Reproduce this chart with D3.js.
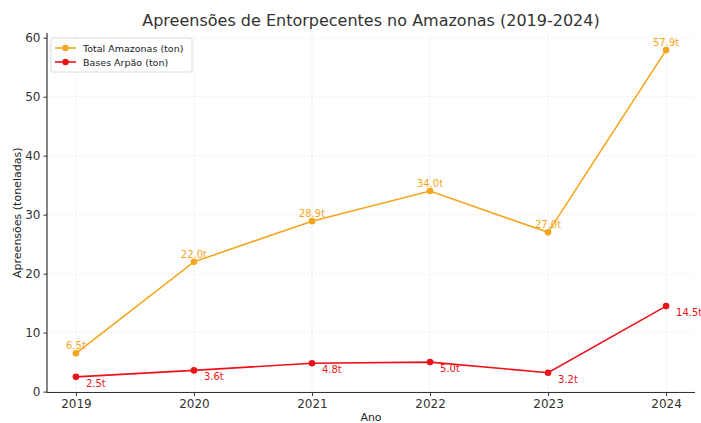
<!DOCTYPE html>
<html>
<head>
<meta charset="utf-8">
<script src="https://cdn.jsdelivr.net/npm/d3@7"></script>
<style>
  body { margin: 0; background: #fff; }
  text { font-family: "DejaVu Sans", sans-serif; }
</style>
</head>
<body>
<script>
var anos = [2019, 2020, 2021, 2022, 2023, 2024]
var totalAmazonas = [6.5, 22.0, 28.9, 34.0, 27.0, 57.9]
var basesArpao = [2.5, 3.6, 4.8, 5.0, 3.2, 14.5]
var yTicks = [0, 10, 20, 30, 40, 50, 60]

var width = 701
var height = 423
var margin = { top: 33, bottom: 30, left: 47, right: 6 }

var corLaranja = "#f5a51c"
var corVermelho = "#ec1218"

var svg = d3.select("body")
  .append("svg")
  .attr("width", width)
  .attr("height", height)

var escalaX = d3.scaleLinear()
  .domain([2018.755, 2024.245])
  .range([margin.left, width - margin.right])

var escalaY = d3.scaleLinear()
  .domain([-0.15, 60.8])
  .range([height - margin.bottom - 0.5, margin.top])

// grid
svg.append("g")
  .selectAll("line")
  .data(anos)
  .enter()
  .append("line")
  .attr("x1", d => escalaX(d)).attr("x2", d => escalaX(d))
  .attr("y1", escalaY.range()[0]).attr("y2", escalaY.range()[1])
  .attr("stroke", "#dedede")
  .attr("stroke-width", 0.7)
  .attr("stroke-dasharray", "2,2")

svg.append("g")
  .selectAll("line")
  .data(yTicks)
  .enter()
  .append("line")
  .attr("x1", escalaX.range()[0]).attr("x2", escalaX.range()[1])
  .attr("y1", d => escalaY(d)).attr("y2", d => escalaY(d))
  .attr("stroke", "#e8e8e8")
  .attr("stroke-width", 0.7)
  .attr("stroke-dasharray", "2,2")

// eixos
var ejeY = d3.axisLeft(escalaY).tickValues(yTicks).tickSize(3.5).tickPadding(3)
var gY = svg.append("g")
  .attr("transform", "translate(" + margin.left + ",0)")
  .call(ejeY)

var ejeX = d3.axisBottom(escalaX).tickValues(anos).tickFormat(d3.format("d")).tickSize(3.5).tickPadding(3)
var gX = svg.append("g")
  .attr("transform", "translate(0," + escalaY.range()[0] + ")")
  .call(ejeX)

gY.select(".domain").attr("stroke", "#333").attr("stroke-width", 1.2).attr("d", "M0," + escalaY.range()[0] + "V" + escalaY.range()[1])
gX.select(".domain").attr("stroke", "#333").attr("stroke-width", 1.2).attr("d", "M" + escalaX.range()[0] + ",0H" + escalaX.range()[1])
svg.selectAll(".tick line").attr("stroke", "#333")
svg.selectAll(".tick text").attr("fill", "#333").style("font-size", "12px").style("font-family", "DejaVu Sans")

// linhas
var series = [
  { nome: "Total Amazonas (ton)", valores: totalAmazonas, cor: corLaranja },
  { nome: "Bases Arpão (ton)", valores: basesArpao, cor: corVermelho }
]

var linha = d3.line()
  .x(d => escalaX(d[0]))
  .y(d => escalaY(d[1]))

series.forEach(function(s, i) {
  var pts = anos.map((a, j) => [a, s.valores[j]])
  svg.append("path")
    .datum(pts)
    .attr("fill", "none")
    .attr("stroke", s.cor)
    .attr("stroke-width", 1.6)
    .attr("d", linha)

  svg.append("g")
    .selectAll("circle")
    .data(pts)
    .enter()
    .append("circle")
    .attr("cx", d => escalaX(d[0]))
    .attr("cy", d => escalaY(d[1]))
    .attr("r", 3.3)
    .attr("fill", s.cor)

  svg.append("g")
    .selectAll("text")
    .data(pts)
    .enter()
    .append("text")
    .attr("x", d => i == 0 ? escalaX(d[0]) : escalaX(d[0]) + 10)
    .attr("y", d => i == 0 ? escalaY(d[1]) - 4 : escalaY(d[1]) + 10)
    .attr("text-anchor", i == 0 ? "middle" : "start")
    .attr("fill", s.cor)
    .style("font-size", "10px")
    .text(d => d[1].toFixed(1) + "t")
})

// titulos
svg.append("text")
  .attr("x", (escalaX.range()[0] + escalaX.range()[1]) / 2)
  .attr("y", 26)
  .attr("text-anchor", "middle")
  .attr("fill", "#333")
  .style("font-size", "16px")
  .text("Apreensões de Entorpecentes no Amazonas (2019-2024)")

svg.append("text")
  .attr("x", (escalaX.range()[0] + escalaX.range()[1]) / 2)
  .attr("y", 421)
  .attr("text-anchor", "middle")
  .attr("fill", "#222")
  .style("font-size", "11px")
  .text("Ano")

svg.append("text")
  .attr("transform", "translate(21," + ((escalaY.range()[0] + escalaY.range()[1]) / 2) + ") rotate(-90)")
  .attr("text-anchor", "middle")
  .attr("fill", "#222")
  .style("font-size", "11px")
  .text("Apreensões (toneladas)")

// legenda
var leg = svg.append("g").attr("transform", "translate(51,38)")
leg.append("rect")
  .attr("width", 141).attr("height", 34)
  .attr("rx", 2)
  .attr("fill", "#fff").attr("fill-opacity", 0.85)
  .attr("stroke", "#dcdcdc")

series.forEach(function(s, i) {
  var y = 10 + i * 14
  leg.append("line")
    .attr("x1", 4).attr("x2", 25)
    .attr("y1", y).attr("y2", y)
    .attr("stroke", s.cor).attr("stroke-width", 1.6)
  leg.append("circle")
    .attr("cx", 14.5).attr("cy", y).attr("r", 3.2)
    .attr("fill", s.cor)
  leg.append("text")
    .attr("x", 32).attr("y", y + 3.5)
    .attr("fill", "#222")
    .style("font-size", "9.5px")
    .text(s.nome)
})
</script>
</body>
</html>
